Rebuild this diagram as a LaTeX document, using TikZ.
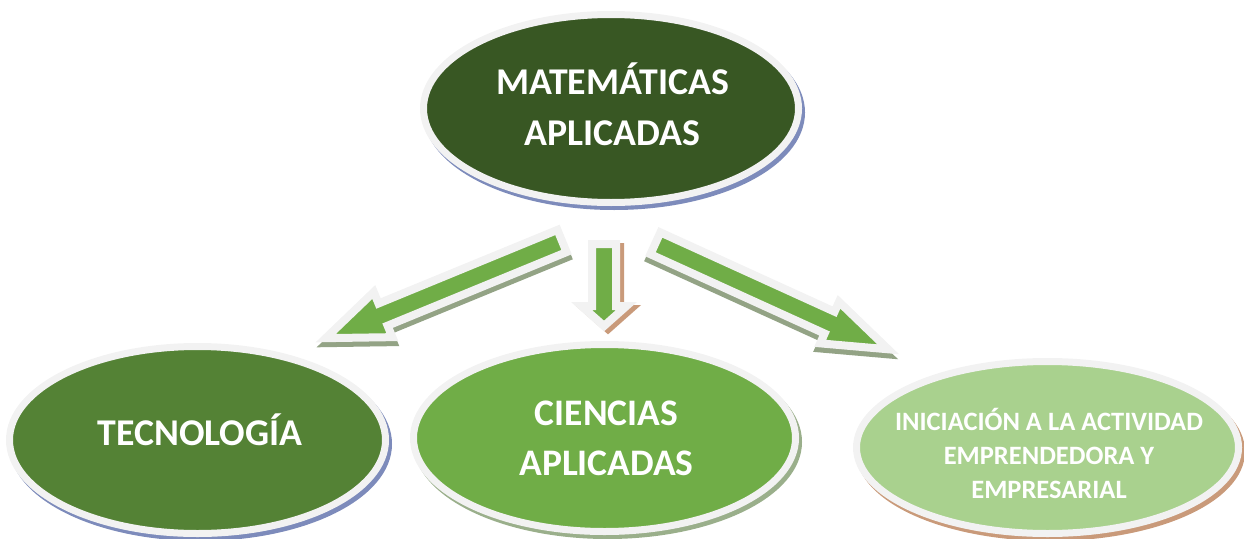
\documentclass[tikz,border=0pt]{standalone}
\usepackage{fontspec}
\setmainfont{Carlito}
\usetikzlibrary{shapes.geometric,shadows}
\definecolor{matgreen}{HTML}{385723}
\definecolor{tecgreen}{HTML}{548235}
\definecolor{ciegreen}{HTML}{70AD47}
\definecolor{inigreen}{HTML}{A9D18E}
\definecolor{arrgreen}{HTML}{70AD47}
\definecolor{rim}{HTML}{F2F2F2}
\definecolor{shblue}{HTML}{7D8BBB}
\definecolor{shgreen}{HTML}{9AAF8B}
\definecolor{shbrown}{HTML}{C99A7A}
\definecolor{sharrow}{HTML}{93A385}

\newcommand{\blockarrow}[9]{%
  % #1,#2 tail; #3 angle; #4 length; #5 shaft half; #6 head half; #7 head length; #8 shadow colour; #9 shadow shift
  \begin{scope}[shift={(#1,#2)}]
    \path[shift={#9}, rotate=#3, fill=#8, draw=#8, line width=8pt, line join=miter]
      (0,-#5) -- ({#4-#7},-#5) -- ({#4-#7},-#6) -- (#4,0) -- ({#4-#7},#6) -- ({#4-#7},#5) -- (0,#5) -- cycle;
    \path[rotate=#3, fill=arrgreen, draw=rim, line width=8pt, line join=miter]
      (0,-#5) -- ({#4-#7},-#5) -- ({#4-#7},-#6) -- (#4,0) -- ({#4-#7},#6) -- ({#4-#7},#5) -- (0,#5) -- cycle;
  \end{scope}}

\tikzset{
  oval/.style={ellipse, inner sep=0pt, draw=rim, line width=7pt},
  ovalshadow/.style={general shadow={shadow xshift=3pt, shadow yshift=-4pt, fill=#1, draw=#1, line width=7pt}},
  lbl/.style={text=white, align=center, inner sep=0pt},
}

\begin{document}
\begin{tikzpicture}[x=1pt,y=-1pt]
\useasboundingbox (0,0) rectangle (1244,538);

% ovals
\node[oval, ovalshadow=shblue, fill=matgreen, minimum width=375pt, minimum height=188pt] (mat) at (611,108.5) {};
\node[oval, ovalshadow=shblue, fill=tecgreen, minimum width=376pt, minimum height=187pt] (tec) at (197.5,440) {};
\node[oval, ovalshadow=shgreen, fill=ciegreen, minimum width=382pt, minimum height=187pt] (cie) at (604.5,438) {};
\node[oval, ovalshadow=shbrown, fill=inigreen, minimum width=382pt, minimum height=172pt] (ini) at (1047.5,447.5) {};

% texts (anchor=base is the baseline of the last line)
\node[lbl, anchor=base, font=\bfseries\fontsize{37.8}{51}\selectfont] (matt) at (612.5,145) {MATEMÁTICAS\\APLICADAS};
\node[lbl, anchor=base, font=\bfseries\fontsize{37.8}{45}\selectfont] (tect) at (200,445) {TECNOLOGÍA};
\node[lbl, anchor=base, font=\bfseries\fontsize{37.5}{50}\selectfont] (ciet) at (606.5,475) {CIENCIAS\\APLICADAS};
\node[lbl, anchor=base, font=\bfseries\fontsize{26.5}{34}\selectfont] (init) at (1049,498) {INICIACIÓN A LA ACTIVIDAD\\EMPRENDEDORA Y\\EMPRESARIAL};

% block arrows
\blockarrow{562}{241}{202.35}{255.5}{12}{24.4}{62}{sharrow}{(1,5)}
\blockarrow{604}{244}{-90}{82}{12}{22.5}{20}{shbrown}{(4,3)}
\blockarrow{655.4}{243.3}{-24.48}{255.8}{12}{22.8}{64.4}{sharrow}{(-1,5)}
\end{tikzpicture}
\end{document}
